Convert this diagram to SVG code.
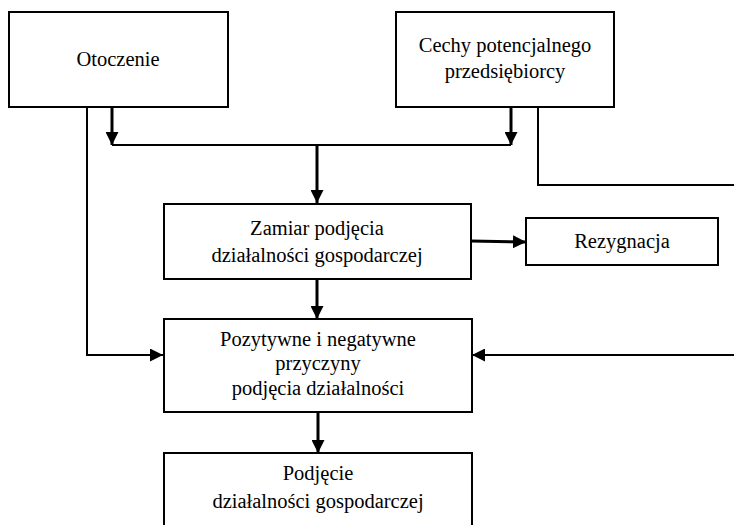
<svg xmlns="http://www.w3.org/2000/svg" width="734" height="525" viewBox="0 0 734 525">
  <style>
    .box { fill: #fff; stroke: #000; stroke-width: 2; }
    .lbl { font-family: "Liberation Serif", "Times New Roman", serif; font-size: 20.5px; fill: #000; text-anchor: middle; }
    .thin { fill: none; stroke: #000; stroke-width: 2; }
    .thick { fill: none; stroke: #000; stroke-width: 3; }
  </style>
  <defs>
    <marker id="head" viewBox="0 0 10 10" refX="10" refY="5" markerWidth="13" markerHeight="13" markerUnits="userSpaceOnUse" orient="auto">
      <path d="M0,0 L10,5 L0,10 Z" fill="#000"/>
    </marker>
  </defs>

  <g id="connectors">
    <!-- Otoczenie to Pozytywne (left side) -->
    <polyline class="thin" points="87,107 87,355 163,355"/>
    <path d="M150,355 L163,355" class="thin" marker-end="url(#head)"/>
    <!-- Otoczenie down to collector -->
    <path class="thick" d="M112,107 L112,145" marker-end="url(#head)"/>
    <!-- Cechy down to collector -->
    <path class="thick" d="M511,107 L511,145" marker-end="url(#head)"/>
    <!-- collector line -->
    <line class="thin" x1="112" y1="145" x2="511" y2="145"/>
    <!-- collector to Zamiar -->
    <path class="thick" d="M317,145 L317,203" marker-end="url(#head)"/>
    <!-- Cechy to Pozytywne (right side) -->
    <polyline class="thin" points="538,107 538,185 736,185"/>
    <polyline class="thin" points="736,355 485,355"/>
    <path class="thin" d="M490,355 L472,355" marker-end="url(#head)"/>
    <!-- Zamiar to Rezygnacja -->
    <path class="thick" d="M471,241 L526,242" marker-end="url(#head)"/>
    <!-- Zamiar to Pozytywne -->
    <path class="thick" d="M317,279 L317,319" marker-end="url(#head)"/>
    <!-- Pozytywne to Podjecie -->
    <path class="thick" d="M318,412 L318,453" marker-end="url(#head)"/>
  </g>

  <g id="otoczenie">
    <rect class="box" x="9" y="12" width="219" height="95"/>
    <text class="lbl" x="118" y="66">Otoczenie</text>
  </g>

  <g id="cechy">
    <rect class="box" x="396" y="12" width="218" height="95"/>
    <text class="lbl" x="505" y="52">Cechy potencjalnego</text>
    <text class="lbl" x="505" y="78">przedsiębiorcy</text>
  </g>

  <g id="zamiar">
    <rect class="box" x="164" y="204" width="307" height="75"/>
    <text class="lbl" x="317" y="235">Zamiar podjęcia</text>
    <text class="lbl" x="317" y="262">działalności gospodarczej</text>
  </g>

  <g id="rezygnacja">
    <rect class="box" x="526" y="218" width="192" height="47"/>
    <text class="lbl" x="622" y="248">Rezygnacja</text>
  </g>

  <g id="pozytywne">
    <rect class="box" x="164" y="319" width="308" height="93"/>
    <text class="lbl" x="318" y="346">Pozytywne i negatywne</text>
    <text class="lbl" x="318" y="370">przyczyny</text>
    <text class="lbl" x="318" y="395">podjęcia działalności</text>
  </g>

  <g id="podjecie">
    <rect class="box" x="164" y="453" width="308" height="80"/>
    <text class="lbl" x="318" y="480">Podjęcie</text>
    <text class="lbl" x="318" y="508">działalności gospodarczej</text>
  </g>
</svg>
